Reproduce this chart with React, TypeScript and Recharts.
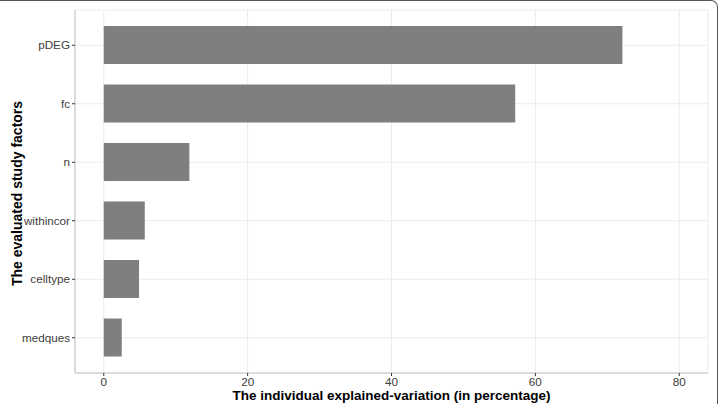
import React from "react";
import { BarChart, Bar, XAxis, YAxis, CartesianGrid } from "recharts";

const factors = ["pDEG", "fc", "n", "withincor", "celltype", "medques"];
const explainedVariation = [72.1, 57.2, 11.9, 5.7, 4.9, 2.5];
const xTicks = [0, 20, 40, 60, 80];
const xDomain = [-4, 84];

const data = factors.map((name, i) => ({ name, value: explainedVariation[i] }));

const FONT = "'Liberation Sans', Arial, Helvetica, sans-serif";

export default function App() {
  return (
    <div style={{ position: "absolute", left: 0, top: 0, width: 721, height: 404, background: "#fff" }}>
      <div
        style={{
          position: "absolute",
          left: 0,
          top: 0,
          width: 718,
          height: 404,
          boxSizing: "border-box",
          borderTop: "1.5px solid #555",
          borderRight: "1.5px solid #555",
          borderTopRightRadius: 7,
        }}
      />
      <div style={{ position: "absolute", left: 0, top: 0 }}>
        <BarChart
          width={721}
          height={404}
          data={data}
          layout="vertical"
          margin={{ top: 10, right: 13, bottom: 0, left: 0 }}
          style={{ fontFamily: FONT }}
        >
          <CartesianGrid stroke="#ebebeb" strokeWidth={1} />
          <XAxis
            type="number"
            dataKey="value"
            domain={xDomain}
            ticks={xTicks}
            height={31}
            axisLine={{ stroke: "#c4c4c4" }}
            tickLine={{ stroke: "#333" }}
            tickSize={3}
            tickMargin={2}
            tick={{ fill: "#3d3d3d", fontSize: 11.7, fontFamily: FONT }}
            label={{
              content: (props: any) => {
                const vb = props.viewBox || { x: 75, y: 373, width: 633, height: 31 };
                return (
                  <text
                    x={vb.x + vb.width / 2}
                    y={vb.y + vb.height - 4}
                    textAnchor="middle"
                    fontSize={13.5}
                    fontWeight="bold"
                    fill="#000"
                    fontFamily={FONT}
                  >
                    The individual explained-variation (in percentage)
                  </text>
                );
              },
            }}
          />
          <XAxis
            xAxisId="top"
            orientation="top"
            type="number"
            domain={xDomain}
            ticks={xTicks}
            height={0}
            tick={false}
            tickLine={false}
            axisLine={{ stroke: "#c4c4c4" }}
          />
          <YAxis
            type="category"
            dataKey="name"
            width={75}
            padding={{ top: 6, bottom: 6 }}
            axisLine={{ stroke: "#c4c4c4" }}
            tickLine={{ stroke: "#333" }}
            tickSize={3}
            tickMargin={2}
            tick={{ fill: "#3d3d3d", fontSize: 11.7, fontFamily: FONT }}
            label={{
              content: (props: any) => {
                const vb = props.viewBox || { x: 0, y: 10, width: 75, height: 363 };
                const cx = 17;
                const cy = vb.y + vb.height / 2 + 2;
                return (
                  <text
                    x={cx}
                    y={cy}
                    transform={`rotate(-90, ${cx}, ${cy})`}
                    textAnchor="middle"
                    dominantBaseline="central"
                    fontSize={14}
                    fontWeight="bold"
                    fill="#000"
                    fontFamily={FONT}
                  >
                    The evaluated study factors
                  </text>
                );
              },
            }}
          />
          <YAxis
            yAxisId="right"
            orientation="right"
            type="category"
            dataKey="name"
            width={0}
            padding={{ top: 6, bottom: 6 }}
            tick={false}
            tickLine={false}
            axisLine={{ stroke: "#c4c4c4" }}
          />
          <Bar dataKey="value" fill="#7f7f7f" barSize={38} isAnimationActive={false} />
        </BarChart>
      </div>
    </div>
  );
}
